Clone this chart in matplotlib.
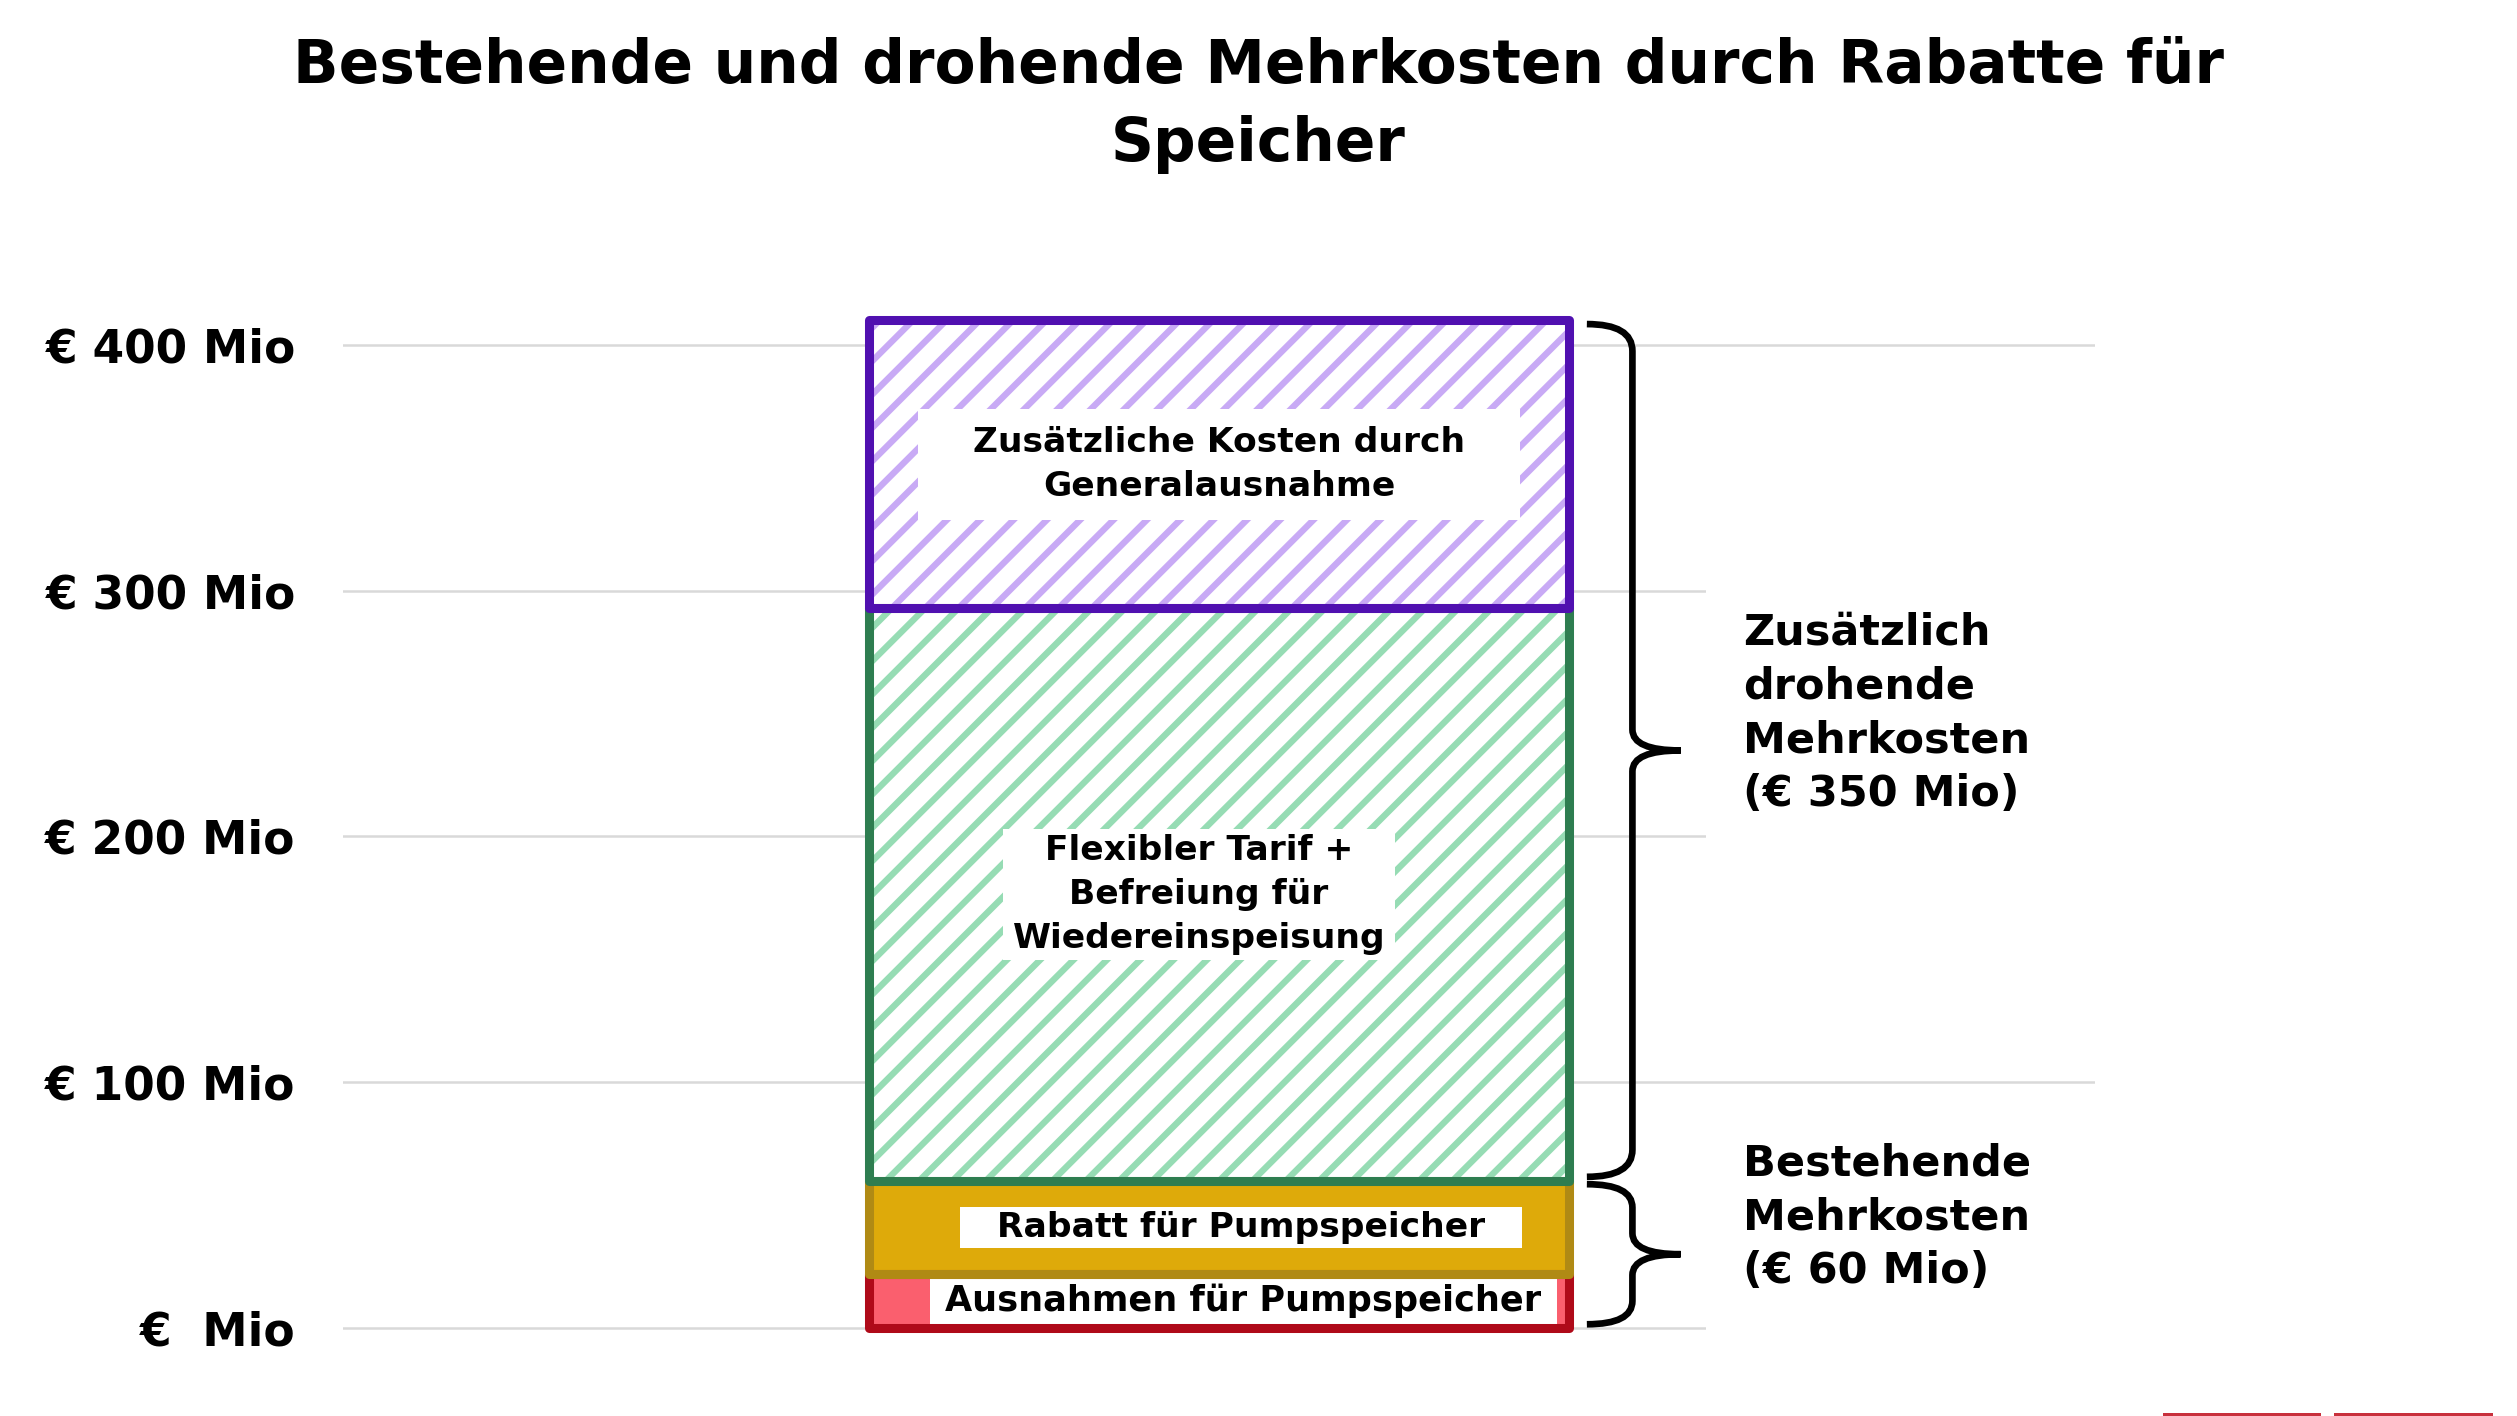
import matplotlib
matplotlib.use('Agg')
import matplotlib.pyplot as plt
import matplotlib.transforms as mtransforms
from matplotlib.path import Path
from matplotlib.patches import PathPatch, Rectangle

# stacked segments, bottom to top (€ Mio)
segments = ['Ausnahmen für Pumpspeicher',
            'Rabatt für Pumpspeicher',
            'Flexibler Tarif +\nBefreiung für\nWiedereinspeisung',
            'Zusätzliche Kosten durch\nGeneralausnahme']
values = [22, 38, 233, 117]

# groups for the braces on the right (number of segments from the bottom)
groups = ['Bestehende\nMehrkosten', 'Zusätzlich\ndrohende\nMehrkosten']
group_sizes = [2, 2]

tick_values = [0, 100, 200, 300, 400]
tick_labels = ['€  Mio', '€ 100 Mio', '€ 200 Mio', '€ 300 Mio', '€ 400 Mio']

title = 'Bestehende und drohende Mehrkosten durch Rabatte für\nSpeicher'

# styles
face_colors = ['#fa5f6e', '#deaa0a', 'white', 'white']
hatch_colors = [None, None, '#96dcb4', '#c8aaf5']
edge_colors = ['#af0a19', '#b08a14', '#2e7d50', '#5010b0']
label_dx = [0.028, 0.025, -0.023, 0.0]
label_size = [25.3, 24.8, 24.8, 24.8]
label_pad = [(15, 6), (37, 4), (10, 5), (55, 17)]  # px, horizontal / vertical

plt.rcParams['font.family'] = ['DejaVu Sans']
plt.rcParams['hatch.linewidth'] = 4.6

fig = plt.figure(figsize=(25.17, 14.16), dpi=100)
ax = fig.add_axes([0.1363, 0.0535, 0.696, 0.7723])
ax.set_xlim(-1, 1)
ax.set_ylim(-5, 440)


def box_style(padx, pady):
    def style(x0, y0, width, height, mutation_size):
        return Path([(x0 - padx, y0 - pady), (x0 + width + padx, y0 - pady),
                     (x0 + width + padx, y0 + height + pady),
                     (x0 - padx, y0 + height + pady), (x0 - padx, y0 - pady)],
                    closed=True)
    return style


bottom = 0
for i, v in enumerate(values):
    if hatch_colors[i]:
        ax.bar(0, v, 0.8, bottom=bottom, color=face_colors[i], edgecolor=hatch_colors[i],
               hatch='/', linewidth=0, zorder=2)
    else:
        ax.bar(0, v, 0.8, bottom=bottom, color=face_colors[i], linewidth=0, zorder=2)
    ax.bar(0, v, 0.8, bottom=bottom, fill=False, edgecolor=edge_colors[i],
           linewidth=6.5, joinstyle='round', zorder=5, clip_on=False)
    ax.text(label_dx[i], bottom + v / 2, segments[i], ha='center', va='center',
            fontsize=label_size[i], fontweight='bold', linespacing=1.42, zorder=4,
            bbox=dict(boxstyle=box_style(*label_pad[i]), facecolor='white', edgecolor='none'))
    bottom += v


def brace(y0, y1, x0=0.42, x1=0.472, x2=0.527):
    h = y1 - y0
    r = min(11, h / 6)
    rm = min(8.5, h / 6)
    ym = (y0 + y1) / 2
    verts = [(x0, y1), (x1, y1), (x1, y1 - r), (x1, ym + rm), (x1, ym), (x2, ym),
             (x1, ym), (x1, ym - rm), (x1, y0 + r), (x1, y0), (x0, y0)]
    codes = [Path.MOVETO, Path.CURVE3, Path.CURVE3, Path.LINETO, Path.CURVE3, Path.CURVE3,
             Path.CURVE3, Path.CURVE3, Path.LINETO, Path.CURVE3, Path.CURVE3]
    ax.add_patch(PathPatch(Path(verts, codes), fill=False, edgecolor='black', linewidth=4.8,
                           capstyle='butt', zorder=6, clip_on=False))


blend = mtransforms.blended_transform_factory(ax.transAxes, ax.transData)
start = 0
pos = 0
for name, n in zip(groups, group_sizes):
    total = sum(values[pos:pos + n])
    brace(start + 1.5, start + total - 1.5)
    label = f'{name}\n(€ {total} Mio)'
    yc = start + total / 2 + 15
    half = 15 * (label.count('\n') + 1) + 3
    # white backdrop that hides the grid behind the group label
    ax.add_patch(Rectangle((0.778, yc - half), 0.25, 2 * half, transform=blend,
                           facecolor='white', edgecolor='none', zorder=1, clip_on=False))
    ax.text(0.598, yc, label, ha='left', va='center', fontsize=31, fontweight='bold',
            linespacing=1.36, zorder=4)
    start += total
    pos += n

ax.set_yticks(tick_values)
ax.set_yticklabels(tick_labels, fontsize=32.8, fontweight='bold')
ax.set_xticks([])
ax.tick_params(axis='y', length=0, pad=34)
ax.yaxis.grid(True, color='#d9d9d9', linewidth=1.8)
ax.set_axisbelow(True)
for s in ax.spines.values():
    s.set_visible(False)

fig.text(0.5, 0.9255, title, ha='center', va='center', fontsize=43, fontweight='bold',
         linespacing=1.41)

# cut-off red strips at the bottom right of the slide
for x0, x1 in [(0.8594, 0.9221), (0.9273, 0.9905)]:
    fig.patches.append(Rectangle((x0, 0), x1 - x0, 0.0022, transform=fig.transFigure,
                                 facecolor='#c8303c', edgecolor='none'))

fig.savefig('out.png', dpi=100, facecolor='white')
